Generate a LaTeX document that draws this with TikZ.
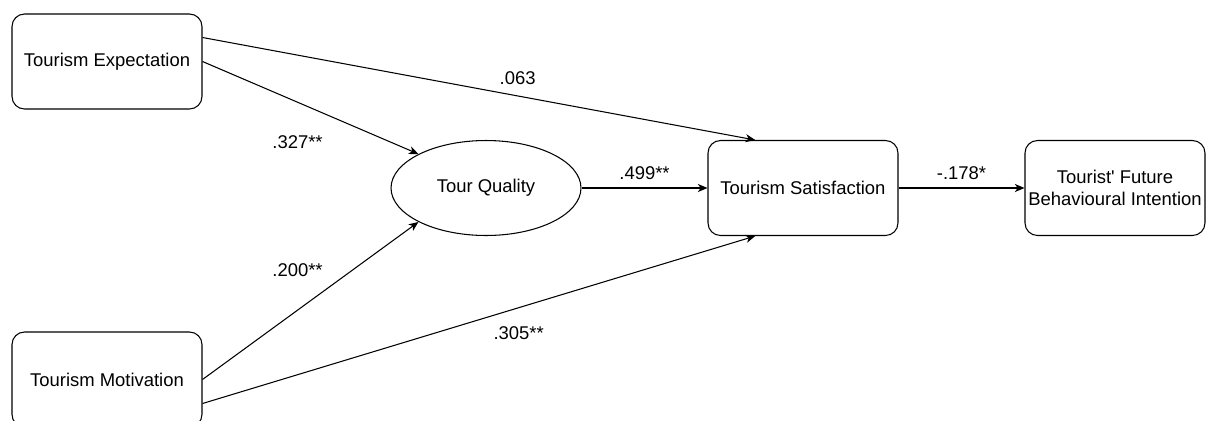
\documentclass[tikz,border=0pt]{standalone}
\usepackage{fontspec}
\setmainfont{Liberation Sans}
\usetikzlibrary{shapes.geometric, arrows.meta, positioning, calc}
\tikzstyle{construct} = [rectangle, rounded corners=0.25cm, minimum width=3.8cm, minimum height=1.9cm, inner sep=0pt, text centered, draw=black, line width=0.6pt]
\tikzstyle{latent} = [ellipse, minimum width=3.8cm, minimum height=1.9cm, inner sep=0pt, text centered, draw=black, line width=0.6pt]
\tikzstyle{arrow} = [line width=0.6pt, -{Stealth[length=5.5pt, width=4.6pt, inset=1.6pt]}]
\tikzstyle{weight} = [inner sep=0pt, text centered]

\begin{document}
\begin{tikzpicture}[x=0.02cm, y=-0.02cm, node distance=2.52cm, font=\fontsize{10.5}{12.5}\selectfont]

\useasboundingbox (0,0) rectangle (1206,420);
\clip (0,0) rectangle (1206,420);

\node (expect) [construct] at (107,61.5) {Tourism Expectation};
\node (motiv) [construct, below=4.44cm of expect] {Tourism Motivation};
\node (quality) [latent] at (486,188) {Tour Quality};
\node (satisf) [construct, right=of quality] {Tourism Satisfaction};
\node (intent) [construct, right=of satisf, minimum width=3.6cm, align=center] {Tourist\textquotesingle{} Future\\Behavioural Intention};

% Anchor points on the box sides
\coordinate (te1) at ($(expect.north east)!0.25!(expect.south east)$);
\coordinate (tm1) at ($(motiv.north east)!0.75!(motiv.south east)$);
\coordinate (ts1) at ($(satisf.north west)!0.25!(satisf.north east)$);
\coordinate (ts2) at ($(satisf.south west)!0.25!(satisf.south east)$);

% Arrows
\draw [arrow] (te1) -- node[weight, pos=0.57, yshift=0.36cm] {.063} (ts1);
\draw [arrow] (expect.east) -- node[weight, pos=0.44, yshift=-0.8cm] {.327**} (quality.north west);
\draw [arrow] (motiv.east) -- node[weight, pos=0.44, yshift=0.8cm] {.200**} (quality.south west);
\draw [arrow] (tm1) -- node[weight, pos=0.572, yshift=-0.5cm] {.305**} (ts2);
\draw [arrow] (quality) -- node[weight, yshift=0.3cm] {.499**} (satisf);
\draw [arrow] (satisf) -- node[weight, yshift=0.3cm] {-.178*} (intent);

\end{tikzpicture}
\end{document}
